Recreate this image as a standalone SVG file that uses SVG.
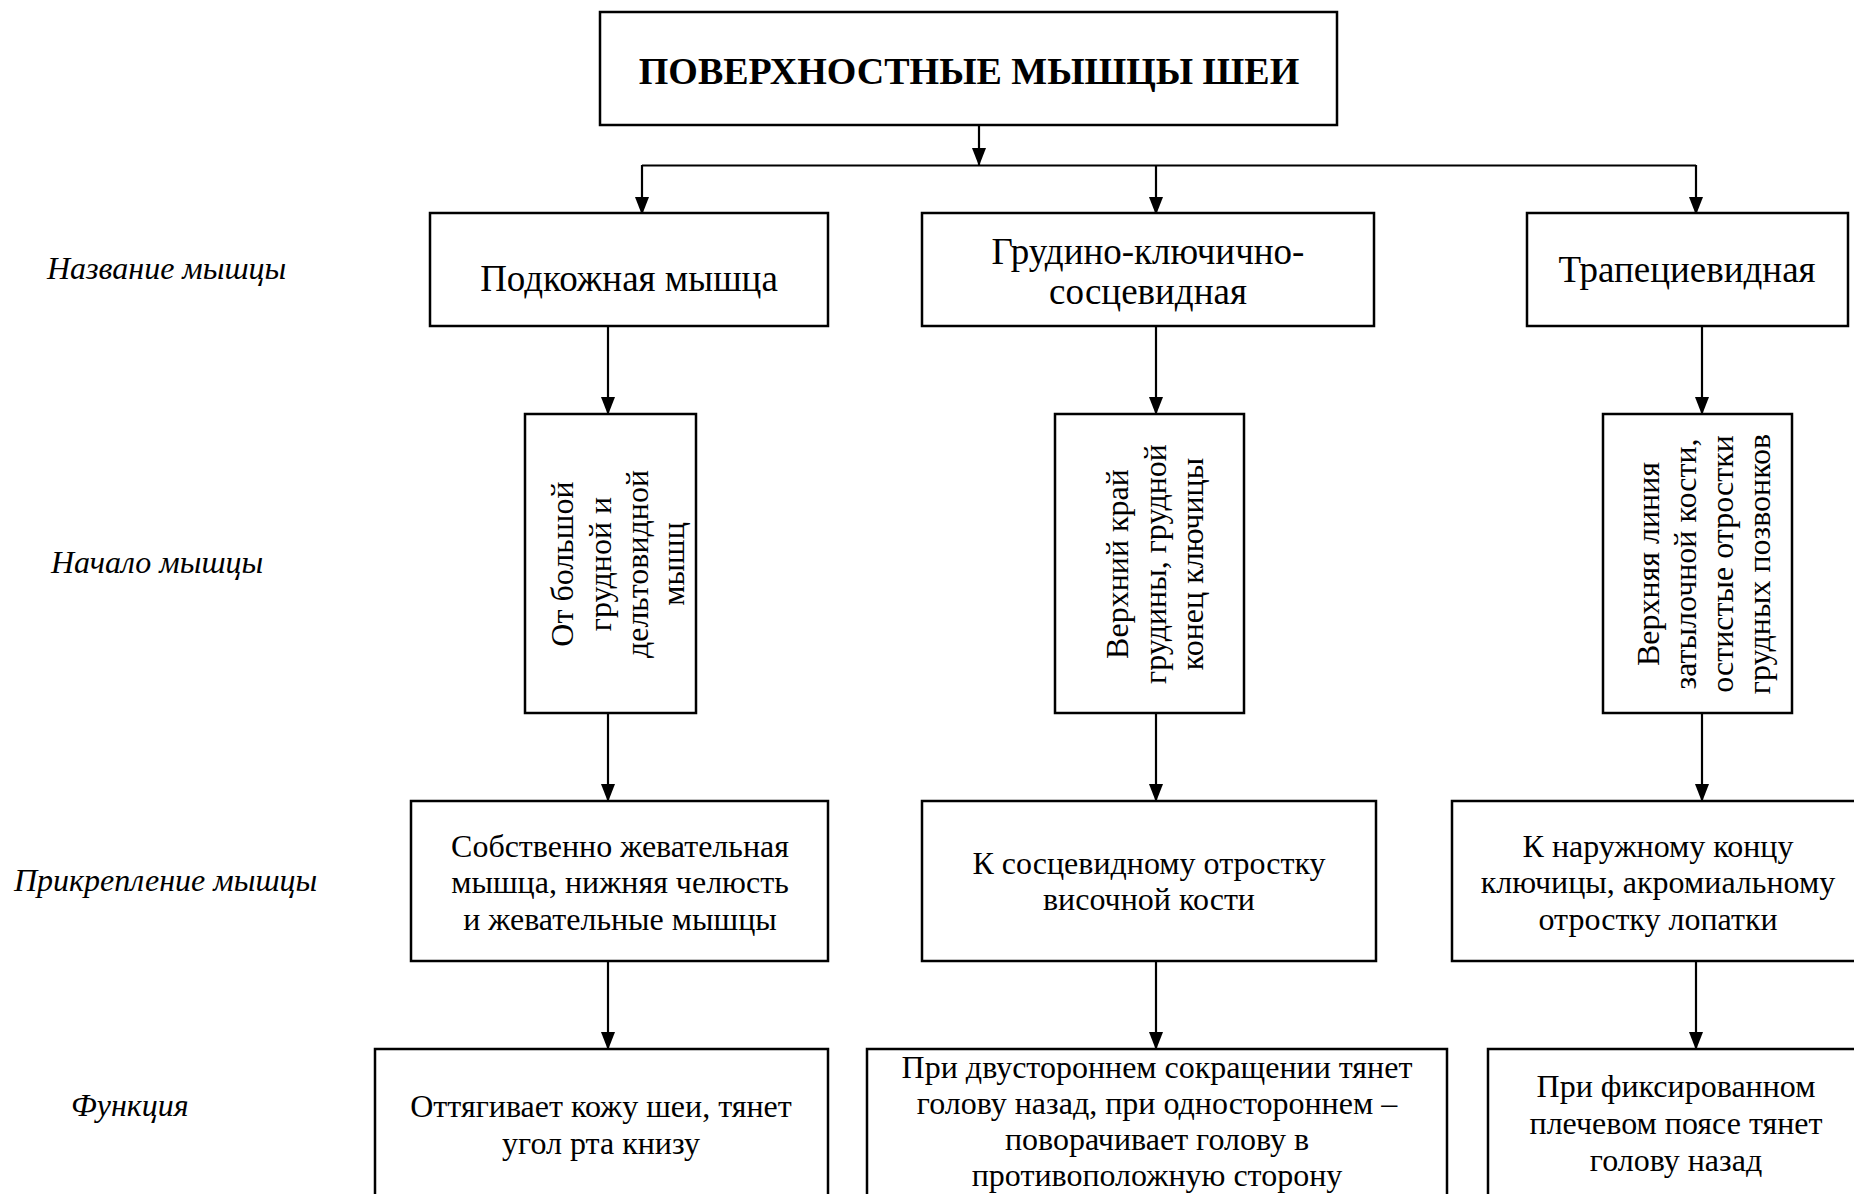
<svg xmlns="http://www.w3.org/2000/svg" width="1854" height="1194" viewBox="0 0 1854 1194">
  <defs>
    <style>
      .box { fill: #fff; stroke: #000; stroke-width: 2.5; }
      .c { fill: none; stroke: #000; stroke-width: 2.2; }
      .t { font-family: "Liberation Serif", "Times New Roman", serif; font-size: 32px; text-anchor: middle; fill: #000; }
      .t1 { font-size: 37px; }
      .title { font-size: 38px; font-weight: bold; }
      .lab { font-family: "Liberation Serif", "Times New Roman", serif; font-size: 32px; font-style: italic; fill: #000; }
    </style>
    <marker id="arr" viewBox="0 0 18 14" refX="18" refY="7" markerWidth="18" markerHeight="14" markerUnits="userSpaceOnUse" orient="auto">
      <path d="M0,0 L18,7 L0,14 z" fill="#000"/>
    </marker>
  </defs>
  <rect width="1854" height="1194" fill="#fff"/>

  <!-- row captions -->
  <g id="row-labels">
    <text class="lab" x="47" y="279">Название мышцы</text>
    <text class="lab" x="51" y="573">Начало мышцы</text>
    <text class="lab" x="14" y="891">Прикрепление мышцы</text>
    <text class="lab" x="71" y="1116">Функция</text>
  </g>

  <!-- connectors -->
  <g id="connectors">
    <path class="c" d="M979,125 V166" marker-end="url(#arr)"/>
    <path class="c" d="M642,165.5 H1696"/>
    <path class="c" d="M642,165 V215" marker-end="url(#arr)"/>
    <path class="c" d="M1156,165 V215" marker-end="url(#arr)"/>
    <path class="c" d="M1696,165 V215" marker-end="url(#arr)"/>
    <path class="c" d="M608,326 V415" marker-end="url(#arr)"/>
    <path class="c" d="M1156,326 V415" marker-end="url(#arr)"/>
    <path class="c" d="M1702,326 V415" marker-end="url(#arr)"/>
    <path class="c" d="M608,713 V802" marker-end="url(#arr)"/>
    <path class="c" d="M1156,713 V802" marker-end="url(#arr)"/>
    <path class="c" d="M1702,713 V802" marker-end="url(#arr)"/>
    <path class="c" d="M608,961 V1050" marker-end="url(#arr)"/>
    <path class="c" d="M1156,961 V1050" marker-end="url(#arr)"/>
    <path class="c" d="M1696,961 V1050" marker-end="url(#arr)"/>
  </g>

  <!-- root -->
  <g id="root">
    <rect class="box" x="600" y="12" width="737" height="113"/>
    <text class="t title" x="969" y="84">ПОВЕРХНОСТНЫЕ МЫШЦЫ ШЕИ</text>
  </g>

  <!-- muscle names -->
  <g id="name-platysma">
    <rect class="box" x="430" y="213" width="398" height="113"/>
    <text class="t t1" x="629" y="291">Подкожная мышца</text>
  </g>
  <g id="name-scm">
    <rect class="box" x="922" y="213" width="452" height="113"/>
    <text class="t t1" x="1148" y="264">Грудино-ключично-</text>
    <text class="t t1" x="1148" y="304">сосцевидная</text>
  </g>
  <g id="name-trapezius">
    <rect class="box" x="1527" y="213" width="321" height="113"/>
    <text class="t t1" x="1687" y="282">Трапециевидная</text>
  </g>

  <!-- origins (vertical text) -->
  <g id="origin-platysma">
    <rect class="box" x="525" y="414" width="171" height="299"/>
    <text class="t" transform="translate(573,564) rotate(-90)">От большой</text>
    <text class="t" transform="translate(611,564) rotate(-90)">грудной и</text>
    <text class="t" transform="translate(648,564) rotate(-90)">дельтовидной</text>
    <text class="t" transform="translate(684,564) rotate(-90)">мышц</text>
  </g>
  <g id="origin-scm">
    <rect class="box" x="1055" y="414" width="189" height="299"/>
    <text class="t" transform="translate(1128,564) rotate(-90)">Верхний край</text>
    <text class="t" transform="translate(1166,564) rotate(-90)">грудины, грудной</text>
    <text class="t" transform="translate(1203,564) rotate(-90)">конец ключицы</text>
  </g>
  <g id="origin-trapezius">
    <rect class="box" x="1603" y="414" width="189" height="299"/>
    <text class="t" transform="translate(1659,564) rotate(-90)">Верхняя линия</text>
    <text class="t" transform="translate(1696,564) rotate(-90)">затылочной кости,</text>
    <text class="t" transform="translate(1733,564) rotate(-90)">остистые отростки</text>
    <text class="t" transform="translate(1770,564) rotate(-90)">грудных позвонков</text>
  </g>

  <!-- insertions -->
  <g id="insertion-platysma">
    <rect class="box" x="411" y="801" width="417" height="160"/>
    <text class="t" x="620" y="857">Собственно жевательная</text>
    <text class="t" x="620" y="893">мышца, нижняя челюсть</text>
    <text class="t" x="620" y="930">и жевательные мышцы</text>
  </g>
  <g id="insertion-scm">
    <rect class="box" x="922" y="801" width="454" height="160"/>
    <text class="t" x="1149" y="874">К сосцевидному отростку</text>
    <text class="t" x="1149" y="910">височной кости</text>
  </g>
  <g id="insertion-trapezius">
    <rect class="box" x="1452" y="801" width="412" height="160"/>
    <text class="t" x="1658" y="857">К наружному концу</text>
    <text class="t" x="1658" y="893">ключицы, акромиальному</text>
    <text class="t" x="1658" y="930">отростку лопатки</text>
  </g>

  <!-- functions -->
  <g id="function-platysma">
    <rect class="box" x="375" y="1049" width="453" height="170"/>
    <text class="t" x="601" y="1117">Оттягивает кожу шеи, тянет</text>
    <text class="t" x="601" y="1154">угол рта книзу</text>
  </g>
  <g id="function-scm">
    <rect class="box" x="867" y="1049" width="580" height="170"/>
    <text class="t" x="1157" y="1078">При двустороннем сокращении тянет</text>
    <text class="t" x="1157" y="1114">голову назад, при одностороннем –</text>
    <text class="t" x="1157" y="1150">поворачивает голову в</text>
    <text class="t" x="1157" y="1186">противоположную сторону</text>
  </g>
  <g id="function-trapezius">
    <rect class="box" x="1488" y="1049" width="376" height="170"/>
    <text class="t" x="1676" y="1097">При фиксированном</text>
    <text class="t" x="1676" y="1134">плечевом поясе тянет</text>
    <text class="t" x="1676" y="1171">голову назад</text>
  </g>
</svg>
